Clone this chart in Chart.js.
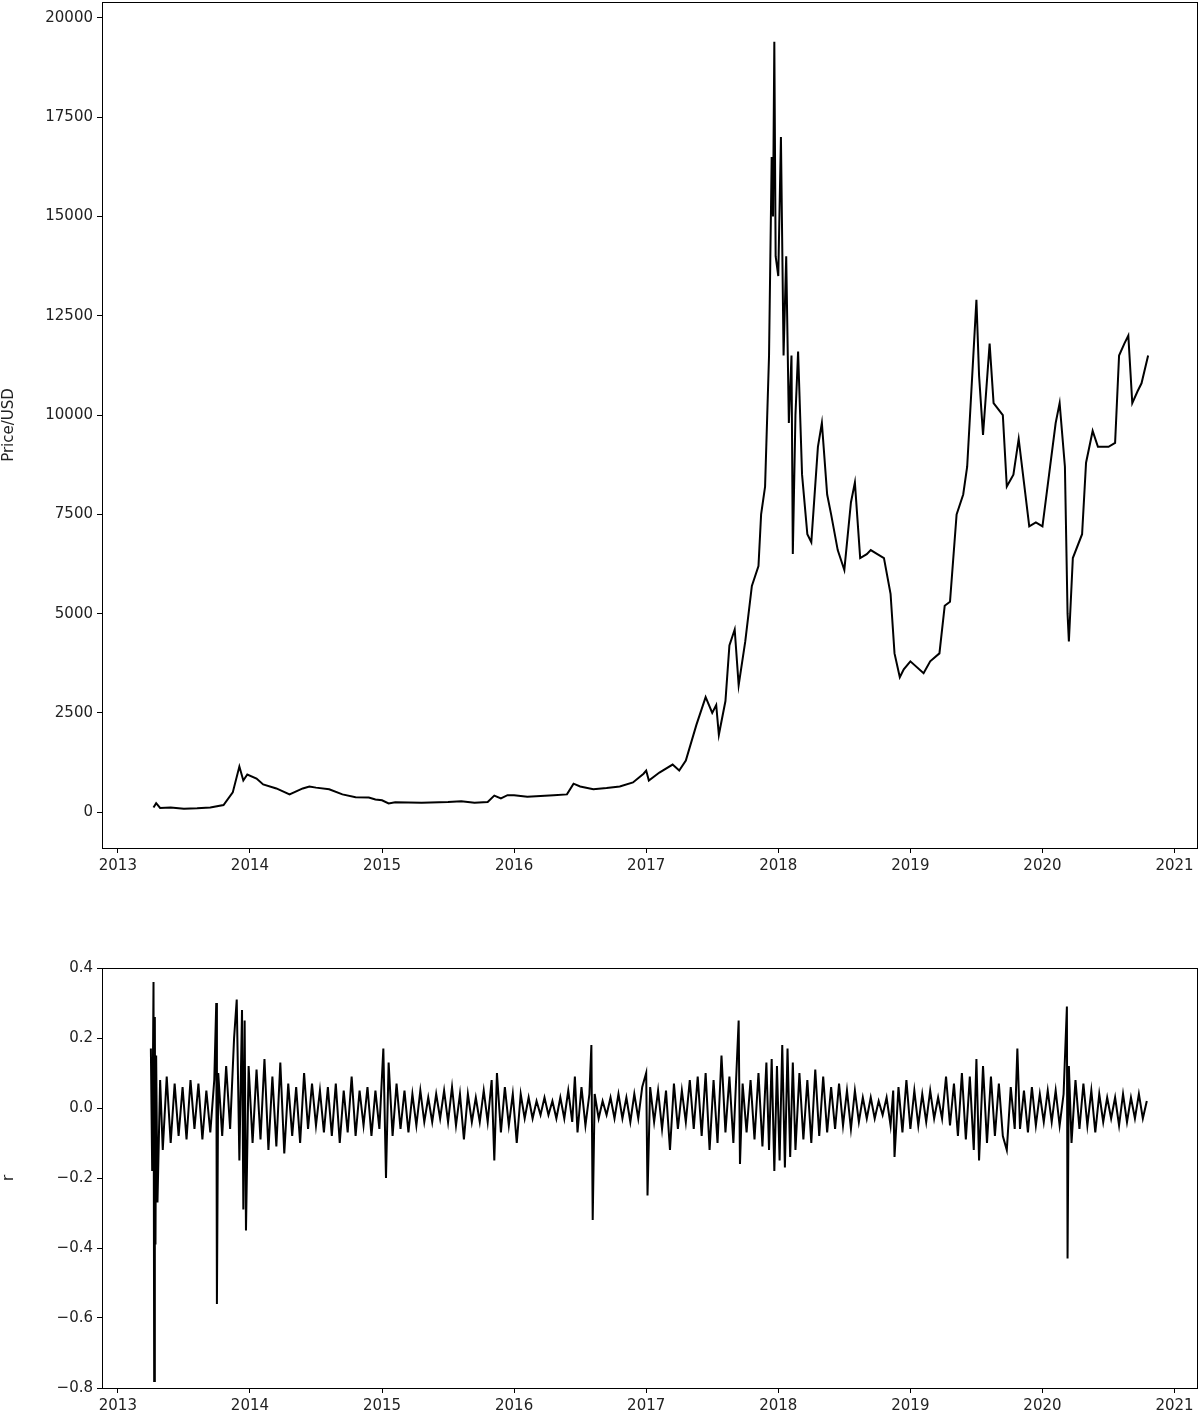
<!DOCTYPE html>
<html><head><meta charset="utf-8">
<script src="https://cdn.jsdelivr.net/npm/chart.js@4/dist/chart.umd.min.js"></script>
<style>body{margin:0;background:#fff;width:1200px;height:1418px;position:relative;overflow:hidden}
.c{position:absolute;left:0}</style></head><body>
<div class="c" style="top:-11px;width:1200px;height:896px"><canvas id="top"></canvas></div>
<div class="c" style="top:930px;width:1200px;height:488px"><canvas id="bot"></canvas></div>
<script>
const priceDates=[2013.27,2013.29,2013.32,2013.4,2013.5,2013.6,2013.7,2013.8,2013.87,2013.92,2013.95,2013.98,2014.05,2014.1,2014.2,2014.3,2014.4,2014.45,2014.5,2014.6,2014.7,2014.8,2014.9,2014.95,2015.0,2015.05,2015.1,2015.3,2015.5,2015.6,2015.7,2015.8,2015.85,2015.9,2015.95,2016.0,2016.1,2016.3,2016.4,2016.45,2016.5,2016.6,2016.7,2016.8,2016.9,2016.98,2017.0,2017.02,2017.1,2017.2,2017.25,2017.3,2017.38,2017.45,2017.5,2017.53,2017.55,2017.6,2017.63,2017.67,2017.7,2017.75,2017.8,2017.85,2017.87,2017.9,2017.93,2017.95,2017.96,2017.97,2017.98,2018.0,2018.02,2018.04,2018.06,2018.08,2018.1,2018.11,2018.13,2018.15,2018.18,2018.22,2018.25,2018.3,2018.33,2018.37,2018.4,2018.45,2018.5,2018.55,2018.58,2018.62,2018.67,2018.7,2018.75,2018.8,2018.85,2018.88,2018.92,2018.95,2019.0,2019.1,2019.15,2019.22,2019.26,2019.3,2019.35,2019.4,2019.43,2019.46,2019.5,2019.52,2019.55,2019.6,2019.63,2019.7,2019.73,2019.78,2019.82,2019.86,2019.9,2019.95,2020.0,2020.05,2020.1,2020.13,2020.17,2020.19,2020.2,2020.23,2020.3,2020.33,2020.38,2020.42,2020.5,2020.55,2020.58,2020.62,2020.65,2020.68,2020.72,2020.75,2020.8];
const priceValues=[120,230,110,120,90,100,120,180,500,1150,800,950,850,700,600,450,600,650,620,580,450,380,370,320,300,220,250,240,260,280,240,260,420,350,430,430,390,430,450,720,650,580,610,650,750,970,1050,800,1000,1200,1050,1300,2200,2900,2500,2700,1950,2800,4200,4600,3200,4300,5700,6200,7500,8200,11500,16500,15000,19400,14000,13500,17000,11500,14000,9800,11500,6500,10000,11600,8500,7000,6800,9200,9800,8000,7500,6600,6100,7800,8300,6400,6500,6600,6500,6400,5500,4000,3400,3600,3800,3500,3800,4000,5200,5300,7500,8000,8700,10500,12900,11000,9500,11800,10300,10000,8200,8500,9400,8300,7200,7300,7200,8500,9800,10300,8700,5000,4300,6400,7000,8800,9600,9200,9200,9300,11500,11800,12000,10300,10600,10800,11500];
const returnDates=[2013.25,2013.26,2013.27,2013.275,2013.28,2013.285,2013.29,2013.3,2013.32,2013.34,2013.37,2013.4,2013.43,2013.46,2013.49,2013.52,2013.55,2013.58,2013.61,2013.64,2013.67,2013.7,2013.73,2013.745,2013.75,2013.76,2013.79,2013.82,2013.85,2013.88,2013.9,2013.92,2013.94,2013.95,2013.96,2013.97,2013.99,2014.02,2014.05,2014.08,2014.11,2014.14,2014.17,2014.2,
2014.23,2014.26,2014.29,2014.32,2014.35,2014.38,2014.41,2014.44,2014.47,2014.5,2014.53,2014.56,2014.59,2014.62,2014.65,2014.68,2014.71,2014.74,2014.77,2014.8,2014.83,2014.86,2014.89,2014.92,2014.95,2014.98,2015.01,2015.03,2015.05,2015.08,2015.11,2015.14,2015.17,2015.2,
2015.23,2015.26,2015.29,2015.32,2015.35,2015.38,2015.41,2015.44,2015.47,2015.5,2015.53,2015.56,2015.59,2015.62,2015.65,2015.68,2015.71,2015.74,2015.77,2015.8,2015.83,2015.85,2015.87,2015.9,2015.93,2015.96,2015.99,
2016.02,2016.05,2016.08,2016.11,2016.14,2016.17,2016.2,2016.23,2016.26,2016.29,2016.32,2016.35,2016.38,2016.41,2016.44,2016.46,2016.48,2016.51,2016.54,2016.57,2016.585,2016.595,2016.61,2016.64,2016.67,2016.7,2016.73,2016.76,2016.79,2016.82,2016.85,2016.88,2016.91,2016.94,2016.97,2017.0,2017.01,2017.03,2017.06,
2017.09,2017.12,2017.15,2017.18,2017.21,2017.24,2017.27,2017.3,2017.33,2017.36,2017.39,2017.42,2017.45,2017.48,2017.51,2017.54,2017.57,2017.6,2017.63,2017.66,2017.7,2017.71,2017.73,2017.76,2017.79,2017.82,2017.85,2017.88,2017.91,2017.93,2017.95,2017.97,2017.99,2018.01,2018.03,2018.05,2018.07,2018.09,2018.11,2018.13,2018.16,2018.19,2018.22,2018.25,2018.28,2018.31,2018.34,2018.37,2018.4,2018.43,2018.46,2018.49,
2018.52,2018.55,2018.58,2018.61,2018.64,2018.67,2018.7,2018.73,2018.76,2018.79,2018.82,2018.85,2018.87,2018.88,2018.91,2018.94,2018.97,2019.0,2019.03,2019.06,2019.09,2019.12,2019.15,2019.18,2019.21,2019.24,2019.27,2019.3,
2019.33,2019.36,2019.39,2019.42,2019.45,2019.48,2019.5,2019.52,2019.55,2019.58,2019.61,2019.64,2019.67,2019.7,2019.73,2019.76,2019.79,2019.81,2019.83,
2019.86,2019.89,2019.92,2019.95,2019.98,2020.01,2020.04,2020.07,2020.1,2020.13,2020.16,2020.185,2020.19,2020.2,2020.22,2020.25,2020.28,2020.31,2020.34,2020.37,2020.4,2020.43,2020.46,2020.49,2020.52,2020.55,2020.58,2020.61,2020.64,2020.67,2020.7,2020.73,2020.76,2020.79];
const returnValues=[0.17,-0.18,0.36,-0.78,0.26,-0.39,0.15,-0.27,0.08,-0.12,0.09,-0.1,0.07,-0.08,0.06,-0.09,0.08,-0.06,0.07,-0.09,0.05,-0.07,0.08,0.3,-0.56,0.1,-0.08,0.12,-0.06,0.2,0.31,-0.15,0.28,-0.29,0.25,-0.35,0.12,-0.1,0.11,-0.09,0.14,-0.12,0.09,-0.11,
0.13,-0.13,0.07,-0.08,0.06,-0.1,0.1,-0.06,0.07,-0.05,0.05,-0.07,0.06,-0.08,0.07,-0.1,0.05,-0.07,0.09,-0.08,0.05,-0.05,0.06,-0.08,0.05,-0.06,0.17,-0.2,0.13,-0.08,0.07,-0.06,0.05,-0.07,
0.04,-0.05,0.05,-0.04,0.03,-0.04,0.04,-0.03,0.05,-0.04,0.06,-0.05,0.04,-0.09,0.04,-0.04,0.03,-0.04,0.05,-0.04,0.08,-0.15,0.1,-0.07,0.06,-0.05,0.04,
-0.1,0.04,-0.03,0.03,-0.03,0.02,-0.02,0.03,-0.02,0.02,-0.03,0.03,-0.03,0.05,-0.04,0.09,-0.07,0.06,-0.05,0.04,0.18,-0.32,0.04,-0.03,0.02,-0.02,0.03,-0.03,0.04,-0.03,0.03,-0.04,0.04,-0.03,0.06,0.1,-0.25,0.06,-0.04,
0.05,-0.06,0.05,-0.12,0.07,-0.06,0.05,-0.04,0.08,-0.06,0.09,-0.08,0.1,-0.12,0.08,-0.1,0.15,-0.07,0.09,-0.1,0.25,-0.16,0.07,-0.07,0.08,-0.09,0.1,-0.11,0.13,-0.12,0.14,-0.18,0.12,-0.15,0.18,-0.17,0.17,-0.14,0.13,-0.12,0.1,-0.09,0.08,-0.1,0.11,-0.08,0.09,-0.07,0.06,-0.06,0.07,-0.05,
0.05,-0.06,0.05,-0.04,0.03,-0.03,0.03,-0.03,0.02,-0.02,0.03,-0.05,0.05,-0.14,0.06,-0.07,0.08,-0.06,0.05,-0.05,0.04,-0.04,0.05,-0.03,0.03,-0.03,0.09,-0.05,
0.07,-0.08,0.1,-0.09,0.09,-0.12,0.14,-0.15,0.12,-0.1,0.09,-0.08,0.07,-0.08,-0.12,0.06,-0.06,0.17,-0.06,
0.05,-0.07,0.06,-0.05,0.04,-0.04,0.05,-0.04,0.05,-0.05,0.04,0.29,-0.43,0.12,-0.1,0.08,-0.06,0.07,-0.05,0.05,-0.07,0.04,-0.04,0.03,-0.03,0.03,-0.05,0.04,-0.04,0.03,-0.03,0.04,-0.03,0.02];
const yearTicks=[2013,2014,2015,2016,2017,2018,2019,2020,2021];

Chart.defaults.font.family='"DejaVu Sans"';
Chart.defaults.font.size=15;
Chart.defaults.color='#222';
const box={id:'box',afterDraw(c){const a=c.chartArea,x=c.ctx;x.save();x.strokeStyle='#000';x.lineWidth=1;x.strokeRect(a.left+0.5,a.top+0.5,a.right-a.left,a.bottom-a.top);x.restore();}};
function xScale(h){return {type:'linear',min:2012.88,max:2021.17,
  afterFit(s){s.height=h;},
  afterBuildTicks(s){s.ticks=yearTicks.map(v=>({value:v}));},
  ticks:{autoSkip:false,maxRotation:0,padding:4,callback:v=>String(v)},
  grid:{drawOnChartArea:false,tickLength:5,color:'#000'},border:{display:false}};}
function mk(id,dates,vals,yopt,pad,xh){
  new Chart(document.getElementById(id),{type:'line',
    data:{datasets:[{data:dates.map((d,i)=>({x:d,y:vals[i]})),borderColor:'#000',borderWidth:2,pointRadius:0,tension:0}]},
    options:{responsive:true,maintainAspectRatio:false,animation:false,
      layout:{padding:pad},plugins:{legend:{display:false},tooltip:{enabled:false}},
      scales:{x:xScale(xh),y:yopt}},plugins:[box]});
}
mk('top',priceDates,priceValues,{min:-900,max:20400,
  afterFit(s){s.width=102;},
  afterBuildTicks(s){s.ticks=[0,2500,5000,7500,10000,12500,15000,17500,20000].map(v=>({value:v}));},
  ticks:{padding:4,callback:v=>String(v)},
  title:{display:true,text:'Price/USD',font:{size:15},padding:0},
  grid:{drawOnChartArea:false,tickLength:5,color:'#000'},border:{display:false}},
  {top:2,right:3,left:0,bottom:0},37);
mk('bot',returnDates,returnValues,{min:-0.8,max:0.4,
  afterFit(s){s.width=102;},
  afterBuildTicks(s){s.ticks=[-0.8,-0.6,-0.4,-0.2,0,0.2,0.4].map(v=>({value:v}));},
  ticks:{padding:4,callback:v=>(v<0?'\u2212':'')+Math.abs(v).toFixed(1)},
  title:{display:true,text:'r',font:{size:15},padding:0},
  grid:{drawOnChartArea:false,tickLength:5,color:'#000'},border:{display:false}},
  {top:38,right:3,left:0,bottom:0},30);
</script></body></html>
